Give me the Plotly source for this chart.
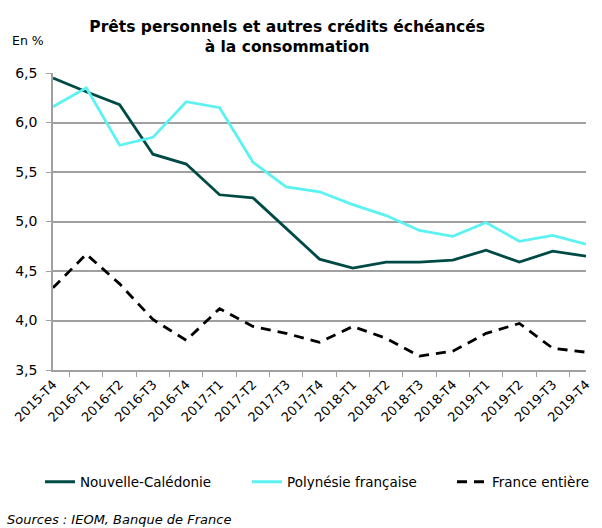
import plotly.graph_objects as go

categories = ["2015-T4", "2016-T1", "2016-T2", "2016-T3", "2016-T4", "2017-T1", "2017-T2",
              "2017-T3", "2017-T4", "2018-T1", "2018-T2", "2018-T3", "2018-T4", "2019-T1",
              "2019-T2", "2019-T3", "2019-T4"]
nouvelle_caledonie = [6.45, 6.31, 6.18, 5.68, 5.58, 5.27, 5.24, 4.93, 4.62, 4.53, 4.59,
                      4.59, 4.61, 4.71, 4.59, 4.70, 4.65]
polynesie = [6.16, 6.35, 5.77, 5.85, 6.21, 6.15, 5.60, 5.35, 5.30, 5.17, 5.06,
             4.91, 4.85, 4.99, 4.80, 4.86, 4.77]
france = [4.33, 4.67, 4.37, 4.01, 3.80, 4.12, 3.94, 3.87, 3.78, 3.94, 3.82,
          3.64, 3.69, 3.87, 3.97, 3.72, 3.68]
y_ticks = [3.5, 4.0, 4.5, 5.0, 5.5, 6.0, 6.5]

FONT = "DejaVu Sans"

fig = go.Figure()
fig.add_trace(go.Scatter(x=categories, y=nouvelle_caledonie, mode="lines",
                         name="Nouvelle-Calédonie", legend="legend",
                         line=dict(color="#004a45", width=2.8)))
fig.add_trace(go.Scatter(x=categories, y=polynesie, mode="lines",
                         name="Polynésie française", legend="legend2",
                         line=dict(color="#5cf2f2", width=2.8)))
fig.add_trace(go.Scatter(x=categories, y=france, mode="lines",
                         name="France entière", legend="legend3",
                         line=dict(color="#000000", width=2.8, dash="10px,7px")))

leg_common = dict(orientation="h", xanchor="left", y=-0.377, yanchor="middle",
                  font=dict(family=FONT, size=13.5), bgcolor="rgba(0,0,0,0)",
                  borderwidth=0)

fig.update_layout(
    width=602, height=528,
    margin=dict(l=53, r=16, t=73, b=158, autoexpand=False),
    paper_bgcolor="white", plot_bgcolor="white",
    separators=", ",
    font=dict(family=FONT, size=12, color="#000000"),
    title=dict(text="<b>Prêts personnels et autres crédits échéancés<br>à la consommation</b>",
               x=0.477, xanchor="center", y=0.939, yanchor="top",
               font=dict(family=FONT, size=15.5, color="#000000")),
    showlegend=True,
    legend=dict(x=-0.0244, **leg_common),
    legend2=dict(x=0.364, **leg_common),
    legend3=dict(x=0.7486, **leg_common),
    xaxis=dict(type="category", tickangle=-45, tickson="boundaries", ticks="outside",
               ticklen=5, tickcolor="#a0a0a0", showline=True, linecolor="#a0a0a0",
               linewidth=1.5, showgrid=False, automargin=False,
               tickfont=dict(family=FONT, size=13)),
    yaxis=dict(range=[3.5, 6.5], tickvals=y_ticks, tickformat=".1f", ticks="outside",
               ticklen=5, tickcolor="#a0a0a0", showline=True, linecolor="#a0a0a0",
               linewidth=1.5, showgrid=True, gridcolor="#a0a0a0", gridwidth=1.5,
               zeroline=False, automargin=False, ticklabelstandoff=6,
               tickfont=dict(family=FONT, size=14)),
    annotations=[
        dict(text="En %", xref="paper", yref="paper", x=-0.0807, y=1.111,
             xanchor="left", yanchor="middle", showarrow=False,
             font=dict(family=FONT, size=12.5)),
        dict(text="<i>Sources : IEOM, Banque de France</i>", xref="paper", yref="paper",
             x=-0.090, y=-0.505, xanchor="left", yanchor="middle", showarrow=False,
             font=dict(family=FONT, size=13)),
    ],
)

fig.write_html("out.html", config={"displayModeBar": False},
               post_script="document.body.style.margin='0px';")
